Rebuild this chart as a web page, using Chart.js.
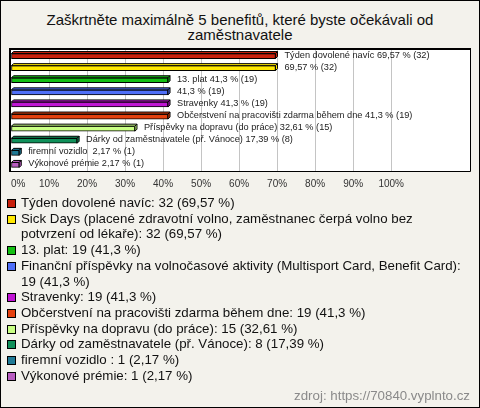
<!DOCTYPE html>
<html>
<head>
<meta charset="utf-8">
<script src="https://cdn.jsdelivr.net/npm/chart.js@4.4.1/dist/chart.umd.min.js"></script>
<style>
    html, body { margin: 0; padding: 0; }
    body {
        width: 480px; height: 408px; position: relative; overflow: hidden;
        background: #f3f2ec; font-family: "Liberation Sans", Arial, sans-serif;
    }
    #frame { position: absolute; left: 0; top: 0; width: 478px; height: 406px; border: 1px solid #000; }
    #title {
        position: absolute; left: 40px; top: 12px; width: 400px;
        text-align: center; font-size: 15px; line-height: 15px; color: #111;
    }
    #wrap { position: absolute; left: 0; top: 0; width: 480px; height: 200px; }
    #legend {
        position: absolute; left: 6px; top: 195px; width: 458px;
        font-size: 13.3px; line-height: 15.7px; color: #111;
    }
    .item { display: flex; align-items: flex-start; }
    .box { flex: none; width: 7px; height: 7px; border: 1px solid #000; margin: 4px 5px 0 1px; }
    #src { position: absolute; right: 10px; top: 388px; font-size: 13.3px; color: #8a8a8a; }
</style>
</head>
<body>
<div id="frame"></div>
<div id="title">Zaškrtněte maximálně 5 benefitů, které byste očekávali od zaměstnavatele</div>
<div id="wrap"><canvas id="chart" width="480" height="200"></canvas></div>
<div id="legend"></div>
<div id="src">zdroj: https://70840.vyplnto.cz</div>

<script>
// ── Dati ───────────────────────────────────────────────────
var categories = [
    'Týden dovolené navíc',
    'Sick Days (placené zdravotní volno, zaměstnanec čerpá volno bez potvrzení od lékaře)',
    '13. plat',
    'Finanční příspěvky na volnočasové aktivity (Multisport Card, Benefit Card)',
    'Stravenky',
    'Občerstvení na pracovišti zdarma během dne',
    'Příspěvky na dopravu (do práce)',
    'Dárky od zaměstnavatele (př. Vánoce)',
    'firemní vozidlo ',
    'Výkonové prémie'
];
// popisky u sloupců (u dvou chybí název)
var barNames = [
    'Týden dovolené navíc', '', '13. plat', '', 'Stravenky',
    'Občerstvení na pracovišti zdarma během dne',
    'Příspěvky na dopravu (do práce)',
    'Dárky od zaměstnavatele (př. Vánoce)',
    'firemní vozidlo ', 'Výkonové prémie'
];
var counts = [32, 32, 19, 19, 19, 19, 15, 8, 1, 1];
var percents = [69.57, 69.57, 41.3, 41.3, 41.3, 41.3, 32.61, 17.39, 2.17, 2.17];
var colors = ['#c8200c', '#ffe800', '#14c014', '#4f6ff8', '#c014d4', '#e4400e', '#c8ff84', '#10905a', '#207a96', '#b85cc0'];
var tickMax = 100;

function fmt(v) { return String(v).replace('.', ','); }

// ── Legenda ────────────────────────────────────────────────
var legend = document.getElementById('legend');
categories.forEach(function (c, i) {
    var row = document.createElement('div');
    row.className = 'item';
    var box = document.createElement('span');
    box.className = 'box';
    box.style.background = colors[i];
    var txt = document.createElement('span');
    txt.textContent = c + ': ' + counts[i] + ' (' + fmt(percents[i]) + ' %)';
    row.appendChild(box);
    row.appendChild(txt);
    legend.appendChild(row);
});

// ── Pluginy: bílé pozadí + rámeček, 3D hrana, popisky ─────
var framePlugin = {
    id: 'frame',
    beforeDraw: function (chart) {
        var a = chart.chartArea, ctx = chart.ctx;
        ctx.save();
        ctx.fillStyle = '#fff';
        ctx.fillRect(a.left, a.top, a.right - a.left, a.bottom - a.top);
        ctx.restore();
    },
    afterDraw: function (chart) {
        var a = chart.chartArea, ctx = chart.ctx;
        ctx.save();
        ctx.strokeStyle = '#000';
        ctx.lineWidth = 2;
        ctx.beginPath();
        ctx.moveTo(a.left - 1, a.bottom);
        ctx.lineTo(a.left - 1, a.top - 1);
        ctx.lineTo(a.right, a.top - 1);
        ctx.stroke();
        ctx.lineWidth = 1;
        ctx.beginPath();
        ctx.moveTo(a.right - 0.5, a.top);
        ctx.lineTo(a.right - 0.5, a.bottom + 0.5);
        ctx.lineTo(a.left - 2, a.bottom + 0.5);
        ctx.stroke();
        ctx.restore();
    }
};

var bar3dPlugin = {
    id: 'bar3d',
    afterDatasetsDraw: function (chart) {
        var ctx = chart.ctx;
        var meta = chart.getDatasetMeta(0);
        ctx.save();
        meta.data.forEach(function (el, i) {
            var p = el.getProps(['x', 'y', 'base', 'height'], true);
            var top = p.y - p.height / 2, bottom = p.y + p.height / 2;
            ctx.fillStyle = colors[i];
            ctx.strokeStyle = '#000';
            ctx.lineWidth = 1;
            // horní plocha
            ctx.beginPath();
            ctx.moveTo(p.base, top);
            ctx.lineTo(p.base + 2, top - 2);
            ctx.lineTo(p.x + 2, top - 2);
            ctx.lineTo(p.x, top);
            ctx.closePath();
            ctx.fill();
            ctx.stroke();
            // boční plocha
            ctx.beginPath();
            ctx.moveTo(p.x, top);
            ctx.lineTo(p.x + 2, top - 2);
            ctx.lineTo(p.x + 2, bottom - 2);
            ctx.lineTo(p.x, bottom);
            ctx.closePath();
            ctx.fill();
            ctx.stroke();
            // popisek
            var name = barNames[i] ? barNames[i] + ' ' : '';
            ctx.fillStyle = '#222';
            ctx.font = '9.2px "Liberation Sans", Arial, sans-serif';
            ctx.textBaseline = 'middle';
            ctx.fillText(name + fmt(percents[i]) + ' % (' + counts[i] + ')', p.x + 9, p.y - 1);
        });
        ctx.restore();
    }
};

// ── Graf ───────────────────────────────────────────────────
var ctx = document.getElementById('chart').getContext('2d');
new Chart(ctx, {
    type: 'bar',
    data: {
        labels: categories,
        datasets: [{
            data: percents,
            backgroundColor: colors,
            borderColor: '#000',
            borderWidth: 1,
            borderSkipped: false,
            barThickness: 5
        }]
    },
    options: {
        indexAxis: 'y',
        responsive: false,
        animation: false,
        layout: { padding: { left: 11, right: 9, top: 50, bottom: 0 } },
        plugins: {
            legend: { display: false },
            tooltip: { enabled: false }
        },
        scales: {
            x: {
                min: 0,
                max: 121,
                border: { display: false },
                grid: {
                    drawTicks: false,
                    color: function (c) {
                        var v = c.tick ? c.tick.value : 0;
                        return (v > 0 && v <= tickMax) ? '#c4c4c4' : 'rgba(0,0,0,0)';
                    }
                },
                ticks: {
                    stepSize: 10,
                    padding: 7,
                    align: 'inner',
                    color: '#333',
                    font: { family: '"Liberation Sans", Arial, sans-serif', size: 10 },
                    callback: function (v) { return v <= tickMax ? v + '%' : ''; }
                },
                afterFit: function (s) { s.height = 29; }
            },
            y: { display: false }
        }
    },
    plugins: [framePlugin, bar3dPlugin]
});
</script>
</body>
</html>
